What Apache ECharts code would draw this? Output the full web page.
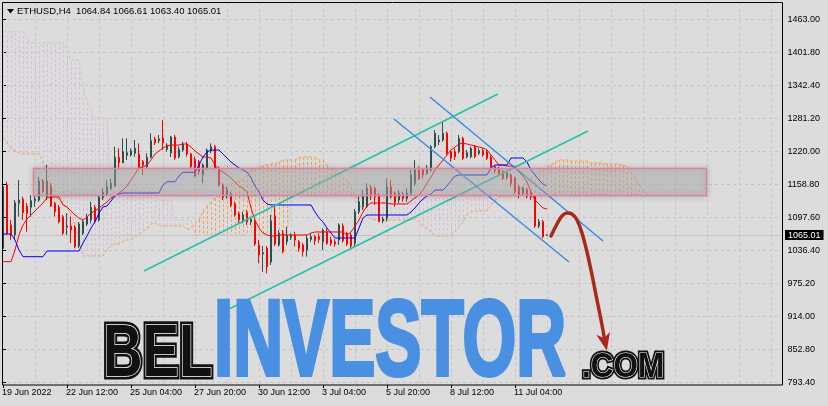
<!DOCTYPE html>
<html><head><meta charset="utf-8">
<script src="https://cdn.jsdelivr.net/npm/echarts@6/dist/echarts.min.js"></script>
<style>html,body{margin:0;padding:0;background:#dcdcdc}#c{width:828px;height:406px}</style>
</head><body><div id="c"></div>
<script>
// ---------- data ----------
// candles: [open, close, low, high]
const candles = [
[1040.6,1154.2,1037.4,1161.0],[1157.4,1068.3,1065.1,1163.4],[1083.6,1065.1,1055.9,1092.8],[1065.1,1124.7,1055.9,1129.7],[1123.6,1129.7,1098.9,1166.6],
[1131.0,1106.3,1092.8,1135.8],[1118.6,1105.1,1071.2,1124.2],[1116.2,1128.4,1098.9,1138.9],[1128.4,1131.5,1117.3,1138.9],[1129.7,1164.7,1126.5,1172.6],
[1164.7,1145.0,1142.6,1168.4],[1135.8,1164.7,1129.7,1194.2],[1154.2,1118.6,1116.8,1161.0],[1123.6,1108.1,1098.9,1126.5],[1116.2,1089.7,1086.7,1120.5],
[1098.9,1068.3,1065.1,1102.0],[1079.3,1081.7,1065.1,1105.1],[1081.7,1074.3,1049.8,1098.9],[1079.3,1043.5,1040.6,1083.6],[1044.8,1085.4,1041.1,1089.1],
[1068.3,1089.7,1065.1,1092.8],[1085.4,1098.9,1081.7,1103.9],[1092.8,1116.2,1086.7,1126.5],[1116.2,1089.7,1086.7,1120.5],[1092.8,1134.7,1089.7,1137.1],
[1134.7,1143.9,1129.7,1151.3],[1140.7,1154.2,1138.9,1166.6],[1151.3,1160.5,1148.1,1169.7],[1155.5,1208.4,1154.2,1228.0],[1208.4,1198.5,1185.0,1225.0],
[1198.5,1218.8,1197.4,1243.5],[1212.1,1216.9,1203.5,1243.5],[1212.7,1220.6,1209.6,1225.0],[1215.8,1225.0,1209.6,1240.4],[1214.5,1191.1,1188.2,1234.3],
[1200.3,1194.2,1175.8,1203.5],[1191.1,1208.4,1188.2,1215.8],[1208.4,1239.1,1206.6,1252.7],[1242.2,1235.4,1231.1,1246.4],[1239.1,1242.2,1234.3,1249.6],
[1243.5,1235.4,1221.9,1277.2],[1223.2,1231.1,1218.8,1234.3],[1216.4,1245.9,1209.0,1247.7],[1245.9,1207.2,1203.5,1249.6],[1209.6,1223.2,1206.6,1228.0],
[1221.9,1233.0,1218.8,1237.2],[1233.0,1214.5,1209.6,1237.2],[1214.5,1191.1,1188.2,1216.9],[1204.8,1174.0,1171.6,1209.6],[1200.3,1181.9,1175.8,1203.5],
[1175.8,1194.2,1160.5,1197.4],[1188.2,1221.9,1185.0,1225.0],[1220.6,1228.0,1215.8,1234.3],[1228.0,1188.2,1185.0,1231.1],[1188.2,1157.4,1154.2,1191.1],
[1157.4,1134.7,1129.7,1160.5],[1138.9,1148.1,1132.8,1154.2],[1140.7,1120.5,1116.2,1145.0],[1122.3,1102.0,1098.9,1126.5],[1103.9,1092.8,1086.7,1108.1],
[1092.8,1102.0,1086.7,1108.1],[1106.3,1089.7,1083.6,1111.2],[1089.7,1094.1,1083.6,1098.9],[1089.7,1048.5,1044.8,1092.8],[1046.7,1028.2,1012.9,1055.9],
[1030.1,1032.5,997.4,1044.8],[1040.6,1006.6,994.5,1044.8],[1015.3,1091.0,1009.8,1102.0],[1100.2,1048.5,1044.8,1120.5],[1046.7,1068.3,1043.5,1074.3],
[1068.3,1034.3,1031.4,1074.3],[1052.8,1065.1,1046.7,1080.4],[1060.9,1065.1,1055.9,1068.3],[1065.1,1055.9,1043.5,1071.2],[1052.8,1040.6,1034.3,1055.9],
[1046.7,1034.3,1025.1,1050.9],[1037.4,1059.0,1025.1,1065.1],[1057.2,1062.0,1052.8,1068.3],[1062.0,1054.6,1046.7,1065.1],[1062.0,1057.2,1050.9,1068.3],
[1052.8,1074.3,1037.4,1077.5],[1071.2,1049.8,1046.7,1077.5],[1055.9,1049.8,1044.8,1062.0],[1052.8,1048.5,1043.5,1057.2],[1055.9,1083.6,1046.7,1086.7],
[1081.7,1054.6,1050.9,1086.7],[1068.3,1048.5,1044.8,1071.2],[1065.1,1044.8,1040.6,1068.3],[1049.8,1108.1,1044.8,1113.1],[1108.1,1126.5,1103.9,1135.8],
[1117.3,1135.8,1111.2,1148.1],[1117.3,1151.8,1114.9,1160.5],[1151.8,1138.9,1129.7,1157.4],[1151.3,1135.8,1120.5,1154.2],[1135.8,1089.7,1089.1,1142.0],
[1091.0,1094.6,1086.7,1098.9],[1095.9,1154.2,1089.7,1169.7],[1154.2,1135.8,1132.8,1166.6],[1142.0,1125.4,1117.3,1145.0],[1129.7,1142.0,1123.6,1148.1],
[1140.2,1132.8,1126.5,1145.0],[1132.8,1142.0,1126.5,1151.3],[1142.0,1175.8,1138.9,1185.0],[1160.5,1185.0,1155.5,1203.5],[1185.0,1169.7,1166.6,1191.1],
[1185.0,1175.8,1169.7,1188.2],[1178.9,1188.2,1175.8,1194.2],[1185.0,1228.0,1181.9,1231.1],[1228.0,1252.7,1225.0,1258.8],[1237.2,1240.4,1231.1,1249.6],
[1240.4,1252.7,1237.2,1274.1],[1252.7,1215.8,1212.7,1255.7],[1218.8,1206.6,1200.3,1221.9],[1218.8,1209.6,1203.5,1225.0],[1218.8,1243.5,1215.8,1249.6],
[1243.5,1206.6,1203.5,1246.4],[1209.6,1216.9,1206.6,1221.9],[1209.6,1225.0,1206.6,1228.0],[1228.0,1209.6,1206.6,1231.1],[1215.8,1220.6,1212.7,1225.0],
[1220.6,1212.7,1209.6,1225.0],[1218.8,1206.6,1203.5,1221.9],[1208.4,1191.1,1188.2,1212.7],[1191.1,1183.7,1178.9,1194.2],[1188.2,1178.9,1172.7,1191.1],
[1181.9,1169.7,1166.6,1185.0],[1171.6,1178.9,1166.6,1181.9],[1175.8,1160.5,1154.2,1178.9],[1169.7,1145.0,1142.0,1172.7],[1154.2,1138.9,1132.8,1157.4],
[1142.0,1151.3,1138.9,1154.2],[1148.1,1135.8,1132.8,1151.3],[1144.4,1135.2,1129.7,1148.1],[1137.1,1081.7,1078.0,1138.9],[1081.7,1089.7,1077.5,1094.6],
[1089.7,1062.0,1059.0,1092.8],[1064.84,1065.01,1063.40,1066.61]
];
const tenkan = [
1015.9,1015.9,1015.9,1037.4,1065.1,1083.6,1094.6,1102.0,1109.4,1116.8,
1124.2,1133.4,1135.2,1135.2,1135.2,1120.5,1116.8,1109.4,1102.0,1096.5,
1092.8,1098.3,1105.7,1109.4,1115.0,1120.5,1126.0,1133.4,1137.1,1142.6,
1148.1,1155.5,1166.6,1177.6,1188.7,1190.6,1194.2,1203.5,1214.5,1220.1,
1225.6,1229.3,1231.1,1231.1,1231.1,1233.0,1233.0,1227.4,1220.1,1214.5,
1209.0,1209.0,1207.2,1194.2,1185.0,1181.3,1175.8,1170.3,1162.9,1155.5,
1151.8,1144.4,1114.9,1092.8,1078.0,1068.8,1065.1,1063.3,1063.3,1065.1,
1065.1,1065.1,1065.1,1065.1,1065.1,1065.1,1065.1,1068.8,1070.7,1070.7,
1070.7,1070.7,1070.7,1070.7,1070.7,1070.7,1065.1,1070.7,1081.7,1092.8,
1107.5,1118.6,1124.2,1124.2,1124.2,1124.2,1124.2,1122.3,1122.3,1122.3,
1122.3,1122.3,1127.8,1133.4,1138.9,1148.1,1161.0,1172.1,1185.0,1194.2,
1203.5,1212.7,1221.9,1227.4,1233.0,1234.8,1233.0,1231.1,1229.3,1227.4,
1225.6,1221.9,1212.7,1203.5,1194.2,1194.2,1192.4,1192.4,1190.6,1181.3,
1173.9,1162.9,1144.4,1129.7,1122.3,1114.9,1113.1];
const kijun = [
1067.0,1067.0,1067.0,1055.9,1037.4,1025.1,1025.1,1025.1,1025.1,1025.1,
1025.1,1035.6,1035.6,1035.6,1035.6,1035.6,1035.6,1035.6,1035.6,1035.6,
1050.4,1063.3,1078.0,1089.1,1105.7,1116.8,1118.6,1127.8,1137.1,1140.7,
1142.6,1142.6,1142.6,1142.6,1142.6,1142.6,1142.6,1142.6,1142.6,1142.6,
1157.4,1163.4,1163.4,1163.4,1174.0,1180.8,1180.8,1180.8,1180.8,1194.2,
1209.0,1218.2,1221.9,1221.9,1221.9,1214.5,1207.2,1199.8,1194.2,1188.7,
1185.0,1181.3,1170.3,1155.5,1144.4,1129.7,1122.3,1120.5,1120.5,1120.5,
1120.5,1120.5,1120.5,1120.5,1120.5,1120.5,1120.5,1120.5,1107.5,1096.5,
1089.1,1078.0,1068.8,1059.6,1059.6,1059.6,1059.6,1059.6,1059.6,1078.0,
1096.5,1102.0,1102.0,1102.0,1102.0,1102.0,1102.0,1102.0,1102.0,1102.0,
1102.0,1102.0,1107.5,1114.9,1124.2,1131.5,1137.1,1140.7,1148.1,1148.1,
1148.1,1155.5,1164.7,1174.0,1175.8,1175.8,1175.8,1175.8,1175.8,1175.8,
1175.8,1175.8,1188.7,1194.2,1194.2,1194.2,1194.2,1207.2,1207.2,1207.2,
1207.2,1199.8,1185.0,1175.8,1166.6,1159.2,1155.5];
const spanA = [
1244.0,1234.8,1225.6,1220.1,1216.4,1214.5,1214.5,1214.5,1214.5,1214.5,
1197.9,1181.3,1157.4,1135.2,1129.7,1124.2,1114.9,1102.0,1083.6,1055.9,
1026.4,1026.4,1026.4,1026.4,1026.4,1026.4,1037.4,1044.8,1048.5,1048.5,
1052.2,1055.9,1055.9,1061.4,1065.1,1072.5,1076.2,1085.4,1087.3,1081.7,
1081.7,1081.7,1081.7,1081.7,1081.7,1081.7,1074.3,1078.0,1085.4,1092.8,
1109.4,1118.6,1126.0,1133.4,1138.9,1150.0,1155.5,1159.2,1162.9,1164.7,
1168.4,1175.8,1185.0,1186.9,1188.7,1192.4,1194.2,1196.1,1196.1,1199.8,
1203.5,1203.5,1203.5,1203.5,1207.2,1209.0,1209.0,1209.0,1209.0,1203.5,
1203.5,1194.2,1188.7,1181.3,1175.8,1170.3,1166.6,1153.7,1137.1,1122.3,
1111.2,1100.2,1094.6,1092.8,1092.8,1092.8,1092.8,1092.8,1092.8,1092.8,
1092.8,1092.8,1092.8,1094.6,1089.1,1081.7,1076.2,1070.7,1063.3,1063.3,
1063.3,1063.3,1063.3,1070.7,1079.9,1089.1,1102.0,1107.5,1109.4,1109.4,
1109.4,1109.4,1120.5,1127.8,1135.2,1135.2,1135.2,1135.2,1142.6,1148.1,
1155.5,1162.9,1170.3,1175.8,1181.3,1185.0,1188.7,1194.2,1199.8,1203.5,
1203.5,1203.5,1201.6,1201.6,1201.6,1201.6,1201.6,1197.9,1197.9,1197.9,
1197.9,1196.1,1196.1,1196.1,1196.1,1194.2,1190.6,1181.3,1170.3,1159.2,
1148.1,1140.7,1137.1];
const spanB = [
1440.1,1440.1,1440.1,1440.1,1440.1,1440.1,1428.5,1419.8,1419.8,1419.8,
1419.8,1419.8,1419.8,1419.8,1419.8,1419.8,1406.4,1387.9,1387.9,1387.9,
1338.1,1314.1,1295.7,1282.8,1280.4,1280.4,1280.4,1162.9,1157.4,1157.4,
1157.4,1157.4,1157.4,1157.4,1144.4,1144.4,1144.4,1144.4,1144.4,1129.7,
1129.7,1129.7,1129.7,1092.8,1092.8,1092.8,1092.8,1092.8,1065.1,1065.1,
1065.1,1065.1,1065.1,1065.1,1065.1,1065.1,1065.1,1065.1,1065.1,1065.1,
1065.1,1065.1,1065.1,1065.1,1065.1,1065.1,1065.1,1065.1,1065.1,1065.1,
1065.1,1065.1,1137.1,1137.1,1137.1,1137.1,1137.1,1137.1,1137.1,1137.1,
1137.1,1137.1,1137.1,1137.1,1137.1,1137.1,1137.1,1137.1,1137.1,1137.1,
1137.1,1137.1,1137.1,1137.1,1137.1,1137.1,1137.1,1137.1,1137.1,1137.1,
1137.1,1137.1,1137.1,1137.1,1137.1,1137.1,1137.1,1137.1,1137.1,1137.1,
1137.1,1137.1,1137.1,1137.1,1137.1,1137.1,1137.1,1137.1,1137.1,1137.1,
1137.1,1137.1,1137.1,1137.1,1137.1,1137.1,1137.1,1137.1,1137.1,1137.1,
1137.1,1137.1,1137.1,1137.1,1137.1,1137.1,1137.1,1137.1,1137.1,1137.1,
1137.1,1137.1,1137.1,1137.1,1137.1,1137.1,1137.1,1137.1,1137.1,1137.1,
1137.1,1137.1,1137.1,1137.1,1137.1,1137.1,1137.1,1137.1,1137.1,1137.1,
1137.1,1137.1,1137.1];
const lastPrice = 1065.01;
const priceTicks = ['793.40','852.80','914.00','975.20','1036.40','1097.60','1158.80','1220.00','1281.20','1342.40','1401.80','1463.00'];
const timeTicks = ['19 Jun 2022','22 Jun 12:00','25 Jun 04:00','27 Jun 20:00','30 Jun 12:00','3 Jul 04:00','5 Jul 20:00','8 Jul 12:00','11 Jul 04:00'];
const gridCols = [8,16,24,32,40,48,56,64,72,80,88,96,104,112,120,128,136,144,152,160,168,176,184,192];
// drawn objects, in [bar, price]
const cyanUpper = [[35.25,998.7],[123.75,1325.2]];
const cyanLower = [[55.5,924.9],[146.25,1257.0]];
const blueUpper = [[106.75,1319.7],[150,1054.1]];
const blueLower = [[97.75,1279.1],[141.5,1015.3]];
const zoneBox = [[7.5,1187.8,175.75,1138.0]];
const arrowPath = [[137.0,1063.3],[138.5,1085.4],[139.75,1100.2],[141.0,1105.7],[142.25,1103.9],[143.5,1092.8],[144.75,1068.8],[146.0,1033.8],[147.25,991.3],[148.5,945.2],[149.75,899.1],[150.5,867.7]];

// ---------- chart ----------
const N = 195;
const MON = ['Jan','Feb','Mar','Apr','May','Jun','Jul','Aug','Sep','Oct','Nov','Dec'];
const t0 = Date.UTC(2022,5,19,20);
const categories = [];
for (let i = 0; i < N; i++) {
  const d = new Date(t0 + i*4*3600*1000);
  categories.push(d.getUTCDate()+' '+MON[d.getUTCMonth()]+' '+String(d.getUTCHours()).padStart(2,'0')+':00');
}
const yMin = 793.4, yMax = 1463.0, yStep = (yMax - yMin)/11;
const FONT = '"Liberation Sans", Arial, sans-serif';
const showTime = (idx) => idx % 16 === 0 && idx/16 < timeTicks.length;

const chart = echarts.init(document.getElementById('c'));
chart.setOption({
  animation: false,
  backgroundColor: '#dcdcdc',
  grid: [
    {left: 1, right: 47, top: 19.3, bottom: 23.7, show: false, outerBoundsMode: 'none'},
    {left: 1, right: 47, top: 2.5, bottom: 21, show: false, outerBoundsMode: 'none'}
  ],
  xAxis: [
    {type: 'category', gridIndex: 0, data: categories, boundaryGap: true, show: false},
    {type: 'value', gridIndex: 0, min: -0.5, max: N - 0.5, show: false},
    {type: 'category', gridIndex: 1, data: categories, boundaryGap: true,
      axisLine: {show: false},
      axisTick: {show: true, alignWithLabel: true, interval: (i) => showTime(i), length: 3, lineStyle: {color: '#000'}},
      axisLabel: {interval: (i) => showTime(i), formatter: (v, i) => showTime(i) ? timeTicks[i/16] : '',
        align: 'left', fontSize: 9, fontFamily: FONT, color: '#000', margin: 3, padding: [0,0,0,-1]},
      splitLine: {show: false}}
  ],
  yAxis: [
    {type: 'value', gridIndex: 0, position: 'right', offset: 1.5, min: yMin, max: yMax, interval: yStep,
      axisLine: {show: false},
      axisTick: {show: true, length: 3, lineStyle: {color: '#000'}},
      axisLabel: {margin: 5, fontSize: 9, fontFamily: FONT, color: '#000',
        formatter: (v) => priceTicks[Math.round((v - yMin)/yStep)] || ''},
      splitLine: {show: true, lineStyle: {color: '#c4c4c4', type: [3,3], width: 1}}},
    {type: 'value', gridIndex: 1, min: 0, max: 1, show: false}
  ],
  series: [
    {type: 'custom', name: 'vgrid', xAxisIndex: 2, yAxisIndex: 1, z: 0, silent: true,
      data: gridCols.map(c => [c, 0]),
      renderItem: (p, api) => {
        const x = Math.round(api.coord([api.value(0), 0])[0]) + 0.5;
        const cs = p.coordSys;
        return {type: 'line', shape: {x1: x, y1: cs.y, x2: x, y2: cs.y + cs.height},
          style: {stroke: '#c4c4c4', lineWidth: 1, lineDash: [3,3]}};
      }},
    {type: 'custom', name: 'kumo', xAxisIndex: 1, yAxisIndex: 0, z: 1, silent: true,
      data: spanA.map((a, i) => [i, a, spanB[i]]),
      renderItem: (p, api) => {
        const i = api.value(0), a = api.value(1), b = api.value(2);
        const p1 = api.coord([i, a]), p2 = api.coord([i, b]);
        const x = Math.round(p1[0]) + 0.5;
        return {type: 'line', shape: {x1: x, y1: p1[1], x2: x, y2: p2[1]},
          style: {stroke: a > b ? '#f4a460' : '#d8bfd8', lineWidth: 1, lineDash: [3,2]}};
      }},
    {type: 'line', name: 'Senkou A', xAxisIndex: 0, yAxisIndex: 0, data: spanA, symbol: 'none', z: 1,
      lineStyle: {color: '#f4a460', width: 1, type: [3,2]}},
    {type: 'line', name: 'Senkou B', xAxisIndex: 0, yAxisIndex: 0, data: spanB, symbol: 'none', z: 1,
      lineStyle: {color: '#d8bfd8', width: 1, type: [3,2]}},
    {type: 'candlestick', name: 'ETHUSD', xAxisIndex: 0, yAxisIndex: 0, data: candles, barWidth: 2, z: 3,
      itemStyle: {color: '#2f4f4f', color0: '#ff0000', borderColor: '#2f4f4f', borderColor0: '#ff0000', borderWidth: 1},
      markLine: {silent: true, symbol: ['none','none'], animation: false, z: 2,
        lineStyle: {color: '#c4c4c4', width: 1, type: 'solid'},
        label: {show: true, position: 'end', distance: 4, formatter: () => lastPrice.toFixed(2),
          color: '#fff', backgroundColor: '#000', padding: [1,3,0,3], fontSize: 9, fontFamily: FONT},
        data: [{yAxis: lastPrice}]}},
    {type: 'line', name: 'Tenkan', xAxisIndex: 0, yAxisIndex: 0, data: tenkan, symbol: 'none', z: 4,
      lineStyle: {color: '#ff0000', width: 1}},
    {type: 'line', name: 'Kijun', xAxisIndex: 0, yAxisIndex: 0, data: kijun, symbol: 'none', z: 4,
      lineStyle: {color: '#0000ff', width: 1}},
    {type: 'line', xAxisIndex: 1, yAxisIndex: 0, data: cyanUpper, symbol: 'none', z: 5, lineStyle: {color: '#23c3a5', width: 1.5}},
    {type: 'line', xAxisIndex: 1, yAxisIndex: 0, data: cyanLower, symbol: 'none', z: 5, lineStyle: {color: '#23c3a5', width: 1.5}},
    {type: 'line', xAxisIndex: 1, yAxisIndex: 0, data: blueUpper, symbol: 'none', z: 5, lineStyle: {color: '#3a8ae6', width: 1.5}},
    {type: 'line', xAxisIndex: 1, yAxisIndex: 0, data: blueLower, symbol: 'none', z: 5, lineStyle: {color: '#3a8ae6', width: 1.5}},
    {type: 'custom', name: 'zone', xAxisIndex: 1, yAxisIndex: 0, z: 6, silent: true, data: zoneBox,
      renderItem: (p, api) => {
        const a = api.coord([api.value(0), api.value(1)]), b = api.coord([api.value(2), api.value(3)]);
        return {type: 'rect', shape: {x: Math.round(a[0]) + 0.5, y: Math.round(a[1]) + 0.5, width: Math.round(b[0] - a[0]), height: Math.round(b[1] - a[1])},
          style: {fill: 'rgba(186,186,186,0.45)', stroke: '#e67d9f', lineWidth: 1.3, shadowBlur: 6, shadowColor: 'rgba(0,0,0,0.25)'}};
      }},
    {type: 'line', name: 'arrow', xAxisIndex: 1, yAxisIndex: 0, data: arrowPath, smooth: 0.4, z: 20,
      lineStyle: {color: '#a8291c', width: 3.5, cap: 'round'},
      symbol: (v, params) => params.dataIndex === arrowPath.length - 1 ? 'path://M10,0 L20,24 L10,17 L0,24 Z' : 'none',
      symbolSize: [14, 18], symbolRotate: 192, showAllSymbol: true,
      itemStyle: {color: '#a8291c'}}
  ],
  graphic: [
    {type: 'rect', z: 50, silent: true, shape: {x: 2.5, y: 2.5, width: 780, height: 382.5}, style: {fill: null, stroke: '#000', lineWidth: 1}},
    {type: 'polygon', z: 50, shape: {points: [[7,9],[14,9],[10.5,13.5]]}, style: {fill: '#000'}},
    {type: 'text', z: 50, x: 17, y: 11, style: {text: 'ETHUSD,H4  1064.84 1066.61 1063.40 1065.01', font: '9.5px ' + FONT, fill: '#000', align: 'left', verticalAlign: 'middle'}},
    {type: 'text', z: 100, x: 103, y: 356, scaleX: 0.74, style: {text: 'BEL', font: 'bold 74px ' + FONT, fill: '#111', stroke: '#111', lineWidth: 7, align: 'left', verticalAlign: 'middle', shadowBlur: 6, shadowColor: 'rgba(0,0,0,0.35)'}},
    {type: 'text', z: 101, x: 103, y: 356, scaleX: 0.74, style: {text: 'BEL', font: 'bold 74px ' + FONT, fill: '#111', stroke: '#fff', lineWidth: 1.6, align: 'left', verticalAlign: 'middle'}},
    {type: 'text', z: 100, x: 214, y: 345, scaleX: 0.64, style: {text: 'INVESTOR', font: 'bold 108px ' + FONT, fill: '#4a90e2', stroke: '#4a90e2', lineWidth: 4, align: 'left', verticalAlign: 'middle', shadowBlur: 5, shadowColor: 'rgba(0,0,0,0.3)'}},
    {type: 'text', z: 100, x: 582, y: 367, scaleX: 0.9, style: {text: '.COM', font: 'bold 35px ' + FONT, fill: '#111', stroke: '#111', lineWidth: 5, align: 'left', verticalAlign: 'middle', shadowBlur: 4, shadowColor: 'rgba(0,0,0,0.35)'}},
    {type: 'text', z: 101, x: 582, y: 367, scaleX: 0.9, style: {text: '.COM', font: 'bold 35px ' + FONT, fill: '#111', stroke: '#fff', lineWidth: 1.2, align: 'left', verticalAlign: 'middle'}}
  ]
});
</script>
</body></html>
